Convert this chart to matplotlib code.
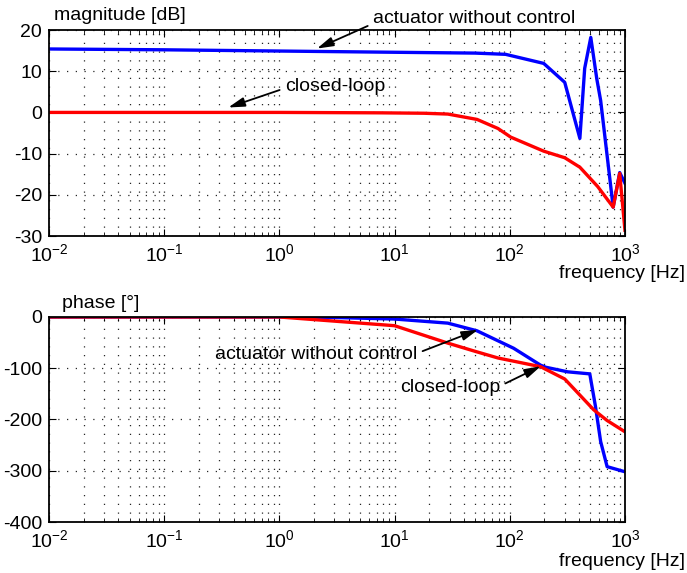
import matplotlib
matplotlib.use('Agg')
import matplotlib.pyplot as plt
import numpy as np

plt.rcParams['font.family'] = ['Liberation Sans', 'DejaVu Sans']
plt.rcParams['mathtext.fontset'] = 'custom'
plt.rcParams['mathtext.rm'] = 'Liberation Sans'
plt.rcParams['mathtext.it'] = 'Liberation Sans'
plt.rcParams['axes.unicode_minus'] = False
plt.rcParams['font.size'] = 14

# magnituda (dB)
f_mag_open = [0.01, 0.1, 1, 10, 50, 92, 197, 300, 406, 447, 505, 569, 615, 790, 900, 1000]
mag_open = [15.4, 15.2, 14.9, 14.6, 14.4, 14.1, 11.9, 7.3, -6.3, 10.7, 18.2, 8.2, 2.9, -23, -14.6, -17.2]

f_mag_closed = [0.01, 0.1, 1, 7.6, 18, 29, 52, 79, 102, 197, 300, 406, 580, 790, 900, 1000]
mag_closed = [0, 0, 0, -0.1, -0.2, -0.4, -1.7, -3.9, -6.0, -9.4, -11.0, -13.3, -18.0, -23.0, -14.8, -28.6]

# faze (laipsniai)
f_ph_open = [0.01, 0.1, 1, 3, 10, 29, 52, 108, 185, 205, 318, 495, 555, 615, 700, 1000]
ph_open = [0, 0, 0, -1, -4, -12, -27, -61, -94, -98, -107, -111, -175, -243, -292, -302]

f_ph_closed = [0.01, 0.1, 1, 10, 29, 50, 79, 185, 300, 535, 700, 1000]
ph_closed = [0, 0, 0, -17, -51, -67, -80, -97, -121, -181, -202, -224]

fig = plt.figure(figsize=(6.87, 5.73), dpi=100)
ax1 = fig.add_axes([0.0713, 0.5881, 0.8384, 0.3595])
ax2 = fig.add_axes([0.0713, 0.0890, 0.8384, 0.3578])

grid_ls = (0, (1, 6))
for ax in (ax1, ax2):
    ax.set_xscale('log')
    ax.set_xlim(1e-2, 1e3)
    ax.grid(True, which='major', axis='both', linestyle=grid_ls, color='0.15', linewidth=0.9)
    ax.grid(True, which='minor', axis='x', linestyle=grid_ls, color='0.15', linewidth=0.9)
    ax.tick_params(which='both', direction='in', top=True, right=True)
    ax.tick_params(which='major', length=5)
    ax.tick_params(axis='x', which='major', pad=5)
    ax.tick_params(axis='y', which='major', pad=5)
    ax.tick_params(which='minor', length=3)
    for s in ax.spines.values():
        s.set_linewidth(1.3)

ax1.plot(f_mag_open, mag_open, color='#0000ff', linewidth=2.4)
ax1.plot(f_mag_closed, mag_closed, color='#ff0000', linewidth=2.4)
ax1.set_ylim(-30, 20)
ax1.set_yticks([-30, -20, -10, 0, 10, 20])

ax2.plot(f_ph_open, ph_open, color='#0000ff', linewidth=2.4)
ax2.plot(f_ph_closed, ph_closed, color='#ff0000', linewidth=2.4)
ax2.set_ylim(-400, 0)
ax2.set_yticks([-400, -300, -200, -100, 0])

arr = dict(arrowstyle='-|>,head_length=0.7,head_width=0.2', color='k', linewidth=1.3, shrinkA=2, shrinkB=0)

ax1.annotate('actuator without control', xy=(2.12, 15.5), xytext=(6.5, 22.8),
             ha='left', va='center', annotation_clip=False,
             arrowprops=dict(arr, relpos=(0, 0.2)))
ax1.annotate('closed-loop', xy=(0.36, 1.2), xytext=(1.12, 6.3),
             ha='left', va='center', annotation_clip=False,
             arrowprops=dict(arr, relpos=(0, 0.4)))
ax2.annotate('actuator without control', xy=(53, -25), xytext=(0.276, -74),
             ha='left', va='center',
             arrowprops=dict(arr, relpos=(1, 0.6)))
ax2.annotate('closed-loop', xy=(186, -96), xytext=(11.1, -138),
             ha='left', va='center',
             arrowprops=dict(arr, relpos=(1, 0.6)))

fig.text(54 / 687, 1 - 15 / 573, 'magnitude [dB]', ha='left', va='center')
fig.text(685 / 687, 1 - 274 / 573, 'frequency [Hz]', ha='right', va='center')
fig.text(62 / 687, 1 - 304 / 573, 'phase [°]', ha='left', va='center')
fig.text(685 / 687, 1 - 562 / 573, 'frequency [Hz]', ha='right', va='center')

fig.savefig('out.png', dpi=100)
